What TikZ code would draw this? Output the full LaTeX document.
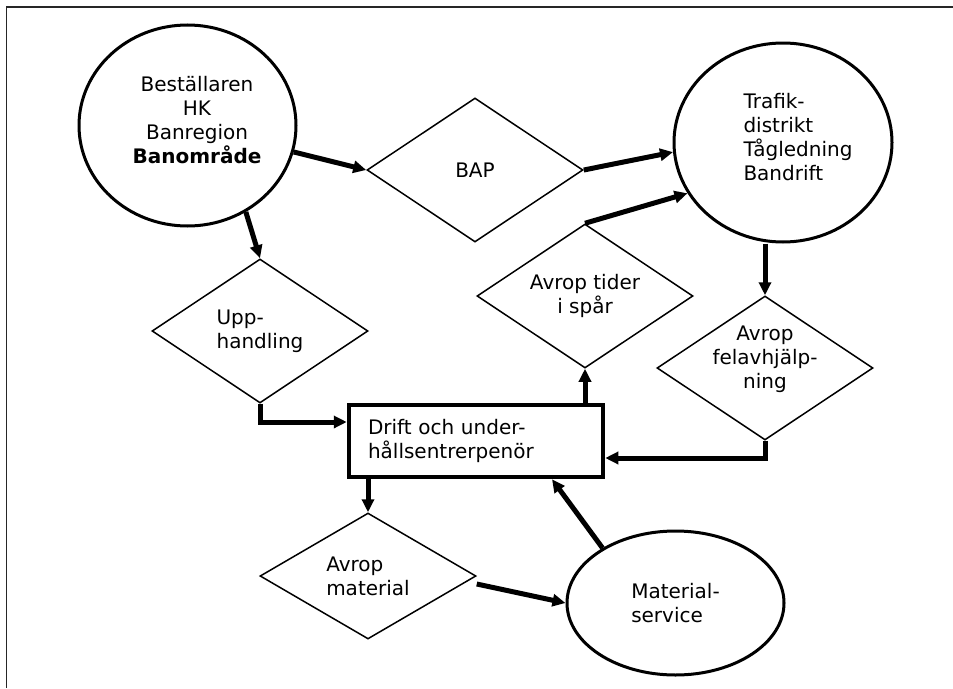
\documentclass[tikz,border=0pt]{standalone}
\usepackage{fontspec}
\setmainfont{DejaVu Sans}
\usetikzlibrary{shapes.geometric,arrows.meta}
\begin{document}
\begin{tikzpicture}[x=1pt,y=-1pt,
  every node/.style={font=\fontsize{20}{24}\selectfont},
  circ/.style={draw, ellipse, line width=3pt, inner sep=0pt},
  dia/.style={draw, diamond, aspect=1.5, line width=1.5pt, inner sep=0pt, minimum width=216pt, minimum height=144pt},
  boxnode/.style={draw, line width=4.5pt, minimum width=254pt, minimum height=72pt, text width=216pt, align=left, inner xsep=19pt, inner ysep=0pt},
  flow/.style={line width=5pt, -{Triangle[length=13pt,width=12pt]}},
  ]
\useasboundingbox (0,0) rectangle (953,688);
\draw[line width=1.5pt, black!85] (6.5,688) -- (6.5,7) -- (953,7);

\node[circ, minimum width=217pt, minimum height=201pt] (c1) at (187.5,125.5) {};
\node[align=center, inner sep=0pt] (c1t) at (197,120) {Beställaren\\HK\\Banregion\\\textbf{Banområde}};
\node[dia] (bap) at (475,170) {BAP};
\node[circ, minimum width=218pt, minimum height=199pt] (c2) at (783,142.5) {};
\node[align=left, inner sep=0pt] (c2t) at (798,137) {Trafik-\\distrikt\\Tågledning\\Bandrift};
\node[dia, align=left] (upp) at (260,331) {Upp-\\handling};
\node[boxnode] (drift) at (476,441) {Drift och under-\\hållsentrerpenör};
\node[dia, align=center] (tid) at (585,296) {Avrop tider\\i spår};
\node[dia] (fel) at (765,368) {};
\node[align=center, inner sep=0pt] (felt) at (765,359) {Avrop\\felavhjälp-\\ning};
\node[dia, minimum height=126pt, align=left] (mat) at (368,576) {Avrop\\material};
\node[circ, minimum width=217pt, minimum height=144pt, align=left] (ms) at (675.5,603) {Material-\\service};

\draw[flow] (c1.-14) -- (bap.west);
\draw[flow] (c1.-56) -- (upp.north);
\draw[flow] (bap.east) -- (c2.185);
\draw[flow] (tid.north) -- (c2.208);
\draw[flow] (fel.north |- c2.south) -- (fel.north);
\draw[flow] (upp.south) |- ([yshift=19pt]drift.west);
\draw[flow] (tid.south |- drift.north) -- (tid.south);
\draw[flow] (fel.south) |- ([yshift=-17pt]drift.east);
\draw[flow] (mat.north |- drift.south) -- (mat.north);
\draw[flow] ([yshift=-8pt]mat.east) -- (ms.west);
\draw[flow] (ms.143) -- ([xshift=76pt]drift.south);
\end{tikzpicture}
\end{document}
